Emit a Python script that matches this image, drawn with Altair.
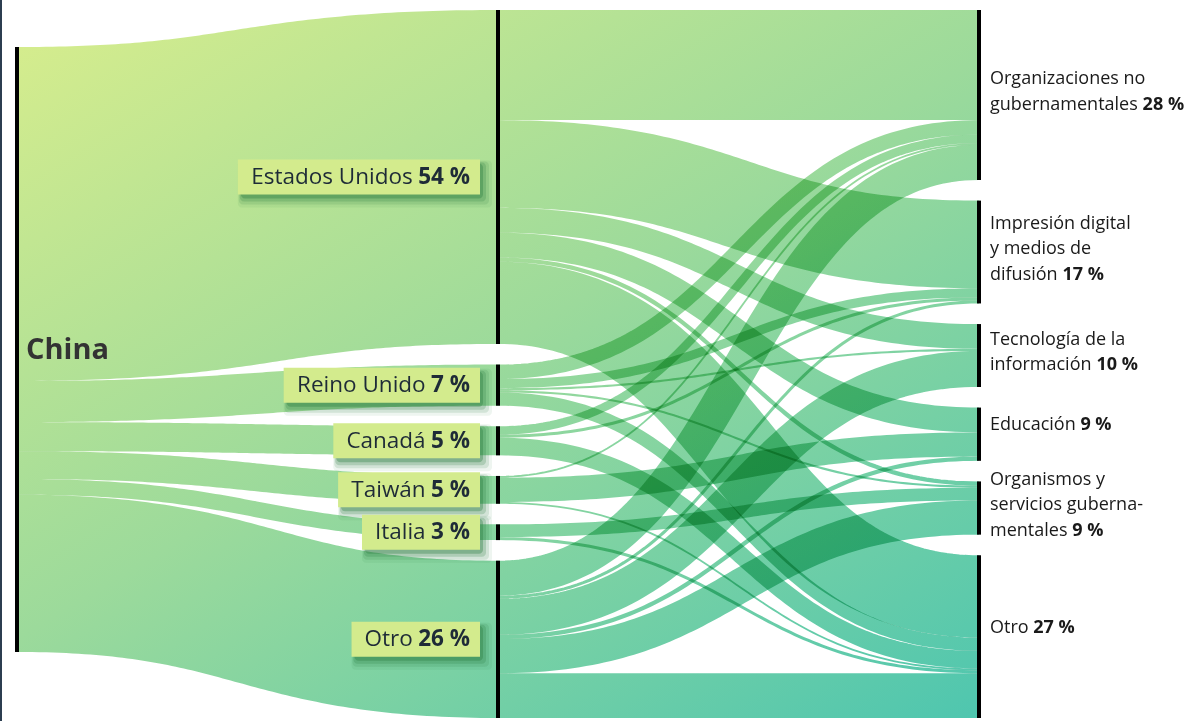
import altair as alt
import numpy as np
import pandas as pd

# ---------------- data ----------------
root_name = "China"
countries = ["Estados Unidos", "Reino Unido", "Canadá", "Taiwán", "Italia", "Otro"]
country_pct = ["54 %", "7 %", "5 %", "5 %", "3 %", "26 %"]

sectors = [
    "Organizaciones no gubernamentales",
    "Impresión digital y medios de difusión",
    "Tecnología de la información",
    "Educación",
    "Organismos y servicios gubernamentales",
    "Otro",
]
sector_lines = [
    ["Organizaciones no", "gubernamentales"],
    ["Impresión digital", "y medios de", "difusión"],
    ["Tecnología de la", "información"],
    ["Educación"],
    ["Organismos y", "servicios guberna-", "mentales"],
    ["Otro"],
]
sector_pct = ["28 %", "17 %", "10 %", "9 %", "9 %", "27 %"]

# flows country -> sector (% of total), in the order of `sectors`
flows_estados_unidos = [18.2, 14.5, 4.1, 4.1, 0.7, 13.6]
flows_reino_unido = [2.4, 1.5, 0.35, 0.0, 0.35, 2.2]
flows_canada = [1.4, 0.5, 0.0, 0.0, 0.0, 2.9]
flows_taiwan = [0.3, 0.0, 0.0, 4.0, 0.0, 0.3]
flows_italia = [0.0, 0.0, 0.0, 0.0, 2.1, 0.5]
flows_otro = [5.8, 0.5, 5.95, 0.7, 5.65, 7.4]
flow_rows = [flows_estados_unidos, flows_reino_unido, flows_canada,
             flows_taiwan, flows_italia, flows_otro]

# ---------------- layout ----------------
W, H = 1195, 721
PX_PER_UNIT = 6.05
TOP_PX = 10
GAP = 20.6 / PX_PER_UNIT
COL_PX = 481
LEFT_PX = 17
ROOT_TOP = 37 / PX_PER_UNIT
FONT = "Open Sans"

G_STOPS = [(0.0, "#daee8c"), (0.45, "#9cda9b"), (1.0, "#3fc2b3")]


def px_x(c):
    return LEFT_PX + c * COL_PX


def px_y(u):
    return TOP_PX + u * PX_PER_UNIT


x_scale = alt.Scale(domain=[-LEFT_PX / COL_PX, (W - LEFT_PX) / COL_PX], nice=False, zero=False)
y_scale = alt.Scale(domain=[-TOP_PX / PX_PER_UNIT, (H - TOP_PX) / PX_PER_UNIT],
                    reverse=True, nice=False, zero=False)


def XQ(f):
    return alt.X(f"{f}:Q", scale=x_scale, axis=None)


def YQ(f):
    return alt.Y(f"{f}:Q", scale=y_scale, axis=None, stack=None)


def global_gradient(bx0, bx1, by0, by1):
    """Linear gradient in object-bbox units reproducing one global diagonal gradient."""
    bw = max(bx1 - bx0, 0.5)
    bh = max(by1 - by0, 0.5)
    A = 0.5 * bw / W
    B = 0.5 * bh / H
    t0 = 0.5 * bx0 / W + 0.5 * by0 / H
    den = A * A + B * B
    x1, y1 = -t0 * A / den, -t0 * B / den
    return {"gradient": "linear", "x1": x1, "y1": y1,
            "x2": x1 + A / den, "y2": y1 + B / den,
            "stops": [{"offset": t, "color": c} for t, c in G_STOPS]}


def curve(c0, c1, a, b, n=90):
    t = np.linspace(0, 1, n)
    xx = c0 + (c1 - c0) * (1.5 * t * (1 - t) + t ** 3)
    s = 3 * t ** 2 - 2 * t ** 3
    return t, xx, a + (b - a) * s


# widths for Open Sans (per 1000 em)
REG = {' ': 260, 'a': 556, 'b': 613, 'c': 476, 'd': 613, 'e': 561, 'f': 339, 'g': 548, 'h': 614,
       'i': 253, 'j': 253, 'k': 525, 'l': 253, 'm': 930, 'n': 614, 'o': 604, 'p': 613, 'q': 613,
       'r': 408, 's': 477, 't': 353, 'u': 614, 'v': 501, 'w': 778, 'x': 524, 'y': 502, 'z': 477,
       'á': 556, 'é': 561, 'í': 253, 'ó': 604, 'ú': 614,
       'A': 633, 'B': 648, 'C': 631, 'D': 729, 'E': 556, 'F': 516, 'G': 728, 'H': 738, 'I': 279,
       'J': 267, 'K': 614, 'L': 524, 'M': 903, 'N': 754, 'O': 779, 'P': 602, 'Q': 779, 'R': 618,
       'S': 549, 'T': 556, 'U': 738, 'V': 598, 'W': 903, 'X': 577, 'Y': 565, 'Z': 556,
       '%': 828, '-': 322}
for d in "0123456789":
    REG[d] = 572


def text_w(s, size, bold=False):
    tot = 0.0
    for ch in s:
        w = REG.get(ch, 560)
        if bold:
            if ch == '%':
                w = 880
            elif ch not in "0123456789 ":
                w *= 1.06
        tot += w
    return tot * size / 1000.0


# node sizes
country_tot = [sum(r) for r in flow_rows]
sector_tot = [sum(r[j] for r in flow_rows) for j in range(len(sectors))]
root_tot = sum(country_tot)

mid_top = []
y = 0.0
for v in country_tot:
    mid_top.append(y)
    y += v + GAP
right_top = []
y = 0.0
for v in sector_tot:
    right_top.append(y)
    y += v + GAP

layers = []


def add_link(c0, c1, s0, t0, v):
    """Link of value v from column c0 (top offset s0) to column c1 (top offset t0)."""
    a = s0 + v / 2
    b = t0 + v / 2
    t, xx, yc = curve(c0, c1, a, b)
    bx0, bx1 = px_x(c0), px_x(c1)
    if abs(b - a) * PX_PER_UNIT < 1.5:
        df = pd.DataFrame({"x": xx, "y": yc - v / 2, "y2": yc + v / 2})
        grad = global_gradient(bx0, bx1, px_y(min(a, b) - v / 2), px_y(max(a, b) + v / 2))
        layers.append(
            alt.Chart(df).mark_area(color=grad, blend="multiply", orient="vertical",
                                    interpolate="linear", strokeWidth=0)
            .encode(x=XQ("x"), y=YQ("y"), y2=alt.Y2("y2:Q"))
        )
    else:
        df = pd.DataFrame({"x": xx, "y": yc, "o": np.arange(len(xx))})
        grad = global_gradient(bx0, bx1, px_y(min(a, b)), px_y(max(a, b)))
        layers.append(
            alt.Chart(df).mark_line(stroke=grad, strokeWidth=v * PX_PER_UNIT, blend="multiply",
                                    strokeCap="butt", interpolate="linear")
            .encode(x=XQ("x"), y=YQ("y"), order="o:Q")
        )


# stage 1: China -> countries
off = ROOT_TOP
for i, v in enumerate(country_tot):
    add_link(0, 1, off, mid_top[i], v)
    off += v

# stage 2: countries -> sectors
src_off = list(mid_top)
tgt_off = list(right_top)
for i, row in enumerate(flow_rows):
    for j, v in enumerate(row):
        if v <= 0:
            continue
        add_link(1, 2, src_off[i], tgt_off[j], v)
        src_off[i] += v
        tgt_off[j] += v

# node bars
nodes = [{"x": 0, "y": ROOT_TOP, "y2": ROOT_TOP + root_tot}]
nodes += [{"x": 1, "y": mid_top[i], "y2": mid_top[i] + v} for i, v in enumerate(country_tot)]
nodes += [{"x": 2, "y": right_top[j], "y2": right_top[j] + v} for j, v in enumerate(sector_tot)]
layers.append(
    alt.Chart(pd.DataFrame(nodes)).mark_rule(color="black", strokeWidth=4)
    .encode(x=XQ("x"), y=YQ("y"), y2=alt.Y2("y2:Q"))
)

# left frame line
layers.append(
    alt.Chart(pd.DataFrame({"a": [0]})).mark_rule(color="#2c3e50", strokeWidth=2)
    .encode(x=alt.value(1), y=alt.value(0), y2=alt.value(H))
)

# China label
layers.append(
    alt.Chart(pd.DataFrame({"x": [9 / COL_PX], "y": [ROOT_TOP + root_tot / 2], "t": [root_name]}))
    .mark_text(align="left", baseline="middle", font=FONT, fontSize=29, fontWeight="bold",
               color="#333333")
    .encode(x=XQ("x"), y=YQ("y"), text="t:N")
)

# country labels with boxes
CF = 22.5
boxes, names, pcts = [], [], []
for i, name in enumerate(countries):
    cu = mid_top[i] + country_tot[i] / 2
    wb = text_w(country_pct[i], CF, bold=True)
    ws = text_w(" ", CF)
    wn = text_w(name, CF)
    end_px = -28
    boxes.append({"x0": 1 + (end_px - wb - ws - wn - 13) / COL_PX, "x1": 1 - 18 / COL_PX,
                  "y0": cu - 17.5 / PX_PER_UNIT, "y1": cu + 17.5 / PX_PER_UNIT})
    pcts.append({"x": 1 + end_px / COL_PX, "y": cu, "t": country_pct[i]})
    names.append({"x": 1 + (end_px - wb - ws) / COL_PX, "y": cu, "t": name})

for (dxp, dyp, grow, op) in [(6, 7, 6, 0.08), (5, 6, 4, 0.14), (4, 5, 2, 0.22), (3, 4, 0, 0.35)]:
    sh = pd.DataFrame([{"x0": b["x0"] + (dxp - grow) / COL_PX, "x1": b["x1"] + (dxp + grow) / COL_PX,
                        "y0": b["y0"] + (dyp - grow) / PX_PER_UNIT, "y1": b["y1"] + (dyp + grow) / PX_PER_UNIT}
                       for b in boxes])
    layers.append(
        alt.Chart(sh).mark_rect(color="#2a7a3e", opacity=op, cornerRadius=4)
        .encode(x=XQ("x0"), x2=alt.X2("x1:Q"), y=YQ("y0"), y2=alt.Y2("y1:Q"))
    )
layers.append(
    alt.Chart(pd.DataFrame(boxes)).mark_rect(color="#d3eb8d")
    .encode(x=XQ("x0"), x2=alt.X2("x1:Q"), y=YQ("y0"), y2=alt.Y2("y1:Q"))
)
layers.append(
    alt.Chart(pd.DataFrame(names)).mark_text(align="right", baseline="middle", font=FONT,
                                            fontSize=CF, color="#1e2b37")
    .encode(x=XQ("x"), y=YQ("y"), text="t:N")
)
layers.append(
    alt.Chart(pd.DataFrame(pcts)).mark_text(align="right", baseline="middle", font=FONT,
                                           fontSize=CF, fontWeight="bold", color="#1e2b37")
    .encode(x=XQ("x"), y=YQ("y"), text="t:N")
)

# sector labels
SF = 18
LH = 25.5
reg_rows, bold_rows = [], []
for j, lines in enumerate(sector_lines):
    cu = right_top[j] + sector_tot[j] / 2
    n = len(lines)
    shift = -3 if n > 1 else -9
    for l, line in enumerate(lines):
        yy = cu + (shift + (l - (n - 1) / 2) * LH) / PX_PER_UNIT
        reg_rows.append({"x": 2 + 11 / COL_PX, "y": yy, "t": line})
        if l == n - 1:
            bold_rows.append({"x": 2 + (11 + text_w(line + " ", SF)) / COL_PX, "y": yy,
                              "t": sector_pct[j]})
layers.append(
    alt.Chart(pd.DataFrame(reg_rows)).mark_text(align="left", baseline="middle", font=FONT,
                                               fontSize=SF, color="#1a1a1a")
    .encode(x=XQ("x"), y=YQ("y"), text="t:N")
)
layers.append(
    alt.Chart(pd.DataFrame(bold_rows)).mark_text(align="left", baseline="middle", font=FONT,
                                                fontSize=SF, fontWeight="bold", color="#1a1a1a")
    .encode(x=XQ("x"), y=YQ("y"), text="t:N")
)

chart = (
    alt.layer(*layers)
    .properties(width=W, height=H, padding=0, autosize=alt.AutoSizeParams(type="none"),
                background="white")
    .configure_view(stroke=None)
)
chart.save("out.html", embed_options={"renderer": "svg", "actions": False})
